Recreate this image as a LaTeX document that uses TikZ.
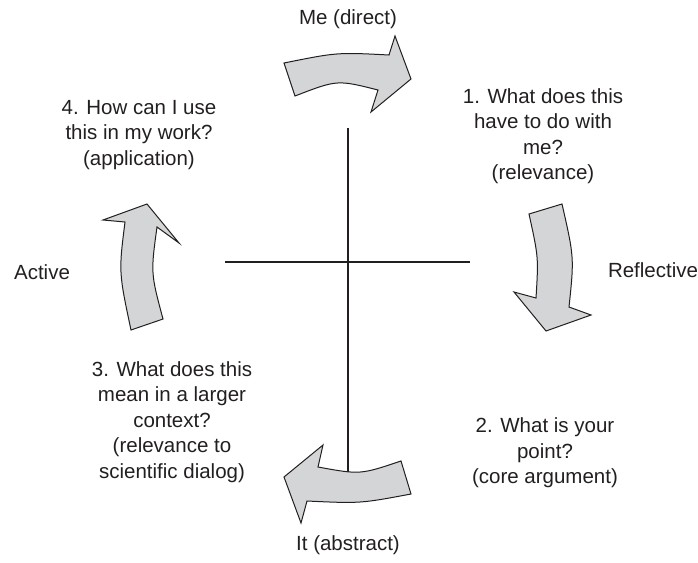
\documentclass[tikz,border=0pt]{standalone}
\usepackage{fontspec}
\setmainfont{Liberation Sans}
\definecolor{arrowfill}{HTML}{D4D5D7}
\definecolor{inkc}{HTML}{231F20}
\tikzset{
  lbl/.style={inner sep=0pt, align=center, text=inkc, font=\fontsize{20.5}{25.5}\selectfont},
  axis/.style={draw=inkc, line width=2pt},
  bigarrow/.style={draw=inkc, fill=arrowfill, line width=1pt, line join=miter}
}
\begin{document}
\begin{tikzpicture}[x=1pt,y=-1pt]
\useasboundingbox (0,0) rectangle (698,562);
% cross
\coordinate (vt) at (348,128);
\coordinate (vb) at (348,475);
\coordinate (hl) at (225,262);
\coordinate (hr) at (470,262);
\draw[axis] (vt) -- (vb);
\draw[axis] (hl) -- (hr);
% top arrow (to the right)
\draw[bigarrow] (284,63) .. controls (337.2,52.3) .. (389,55) -- (395,36) -- (411,79) -- (371,112) -- (378,90) .. controls (337.2,79.7) .. (295,96) -- cycle;
% right arrow (downward)
\draw[bigarrow] (529,214) -- (562,204) .. controls (574.2,257.5) .. (569,307) -- (591,315) -- (546,331) -- (514,292) -- (536,298) .. controls (538.5,257.3) .. cycle;
% bottom arrow (to the left)
\draw[bigarrow] (401,461) -- (411,494) .. controls (360.3,503.5) .. (307,501) -- (301,523) -- (284,477) -- (323,445) -- (318,467) .. controls (360.2,474.7) .. cycle;
% left arrow (upward)
\draw[bigarrow] (163,319) -- (131,330) .. controls (118.7,272) .. (125,222) -- (103,220) -- (147,204) -- (179,243) -- (157,227) .. controls (150.7,273) .. cycle;
% labels
\node[lbl] (me) at (348,19) {Me (direct)};
\node[lbl] (q1) at (543,136) {1. What does this\\have to do with\\me?\\(relevance)};
\node[lbl] (q4) at (139,135) {4. How can I use\\this in my work?\\(application)};
\node[lbl] (act) at (42,272) {Active};
\node[lbl] (refl) at (653,270) {Reflective};
\node[lbl] (q3) at (172,422) {3. What does this\\mean in a larger\\context?\\(relevance to\\scientific dialog)};
\node[lbl] (q2) at (545,453) {2. What is your\\point?\\(core argument)};
\node[lbl] (it) at (348,545) {It (abstract)};
\end{tikzpicture}
\end{document}
